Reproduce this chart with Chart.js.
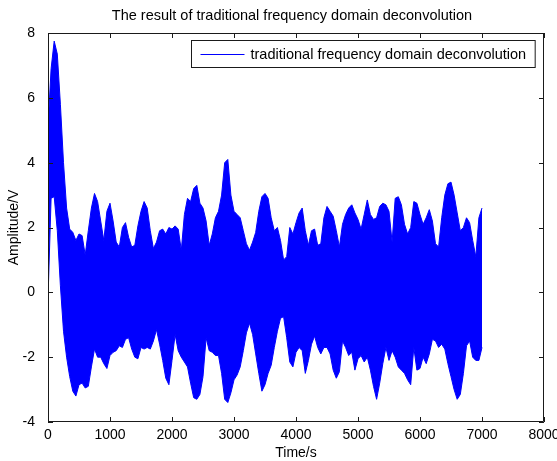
<!DOCTYPE html>
<html>
<head>
<meta charset="utf-8">
<style>
    html, body { margin: 0; padding: 0; background: #fff; }
    #wrap { width: 557px; height: 461px; }
</style>
</head>
<body>
    <div id="wrap">
        <canvas id="myChart" width="557" height="461"></canvas>
    </div>
    <script src="https://cdn.jsdelivr.net/npm/chart.js"></script>
    <script>
        // 신호 포락선 (그림에서 읽은 값, 50초 간격, 0 ~ 7000 s)
        const sampleStep = 50;
        const upperEnv = [
            5.1, 6.9, 7.75, 7.35, 5.8, 4.0, 2.6, 1.95, 1.85, 1.6,
            1.8, 1.75, 1.15, 1.9, 2.6, 3.05, 2.8, 2.2, 1.6, 2.5,
            2.75, 2.2, 1.55, 1.4, 2.0, 2.15, 1.7, 1.4, 1.45, 2.05,
            2.5, 2.8, 2.6, 1.9, 1.35, 1.55, 1.9, 1.95, 1.8, 2.0,
            1.95, 2.05, 1.95, 1.3, 2.4, 2.9, 2.8, 3.2, 3.3, 2.75,
            2.6, 2.2, 1.45, 1.8, 2.3, 2.5, 3.0, 4.0, 4.1, 3.0,
            2.5, 2.4, 2.3, 1.9, 1.5, 1.3, 1.55, 1.85, 2.5, 2.95,
            3.05, 2.9, 2.3, 1.9, 2.0, 1.6, 1.0, 1.1, 2.0, 1.8,
            2.15, 2.45, 2.6, 1.9, 1.45, 1.9, 1.95, 1.45, 1.5, 2.3,
            2.65, 2.5, 2.35, 1.9, 1.4, 2.1, 2.4, 2.6, 2.7, 2.45,
            2.25, 1.95, 2.4, 2.85, 2.4, 2.25, 2.3, 2.65, 2.75, 2.7,
            2.5, 1.55, 2.9, 2.95, 2.7, 2.1, 1.8, 2.0, 2.8, 2.75,
            2.4, 2.1, 2.3, 2.55, 2.2, 1.5, 1.4, 2.3, 3.0, 3.35,
            3.4, 3.0, 2.45, 1.9, 2.0, 2.3, 2.15, 1.6, 1.1, 2.3,
            2.6
        ];
        const lowerEnv = [
            -0.2, 2.9, 2.95, 1.9, 0.2, -1.2, -2.0, -2.6, -3.05, -3.2,
            -2.85, -2.8, -2.95, -2.9, -2.3, -1.75, -2.0, -2.0, -2.2, -2.35,
            -1.95, -1.85, -1.8, -1.65, -1.7, -1.45, -1.4, -1.75, -2.0, -2.05,
            -1.7, -1.75, -1.7, -1.75, -1.5, -1.15, -1.6, -2.1, -2.65, -2.85,
            -2.1, -1.3, -1.8, -2.0, -2.15, -2.3, -2.8, -3.25, -3.3, -3.15,
            -2.6, -1.4, -1.8, -1.85, -1.95, -1.95, -2.5, -3.3, -3.4, -3.1,
            -2.7, -2.55, -2.3, -1.8, -1.25, -0.95, -1.3, -1.9, -2.5, -3.05,
            -2.85, -2.5, -2.25, -1.7, -1.2, -0.8, -0.75, -1.4, -2.15, -2.3,
            -1.85, -1.7, -1.8, -2.5, -2.1, -1.6, -1.35, -1.7, -1.9, -1.7,
            -1.7, -1.9, -2.4, -2.65, -2.45, -1.5, -1.7, -1.95, -1.85, -2.4,
            -2.05, -1.95, -2.15, -2.0, -2.4, -2.9, -3.3, -2.8, -2.2, -1.7,
            -2.1, -1.8, -2.0, -2.3, -2.4, -2.5, -2.7, -2.85, -1.7, -2.4,
            -2.35, -2.0, -2.2, -1.9, -1.45, -1.5, -1.7, -1.6, -1.75, -2.2,
            -2.6, -3.0, -3.3, -3.15, -2.5, -1.65, -1.5, -2.0, -2.1, -2.1,
            -1.7
        ];
        const xTicks = [0, 1000, 2000, 3000, 4000, 5000, 6000, 7000, 8000];
        const yTicks = [-4, -2, 0, 2, 4, 6, 8];

        const titleText = 'The result of traditional frequency domain deconvolution';
        const seriesName = 'traditional frequency domain deconvolution';
        const fontFamily = '"Liberation Sans", Arial, Helvetica, sans-serif';

        const upperPts = upperEnv.map((v, i) => ({ x: i * sampleStep, y: v }));
        const lowerPts = lowerEnv.map((v, i) => ({ x: i * sampleStep, y: v }));

        // 축 상자 + 안쪽 눈금 + 제목 + 범례 (matlab 스타일)
        const matlabFrame = {
            id: 'matlabFrame',
            afterDatasetsDraw(chart) {
                const { ctx, chartArea: a, scales } = chart;
                ctx.save();
                ctx.strokeStyle = '#1a1a1a';
                ctx.lineWidth = 1;
                ctx.beginPath();
                ctx.rect(Math.round(a.left) + 0.5, Math.round(a.top) + 0.5,
                    Math.round(a.right - a.left) - 1, Math.round(a.bottom - a.top) - 1);
                ctx.stroke();

                const tl = 5;
                ctx.beginPath();
                xTicks.forEach(v => {
                    const px = Math.round(scales.x.getPixelForValue(v)) + 0.5;
                    ctx.moveTo(px, a.bottom); ctx.lineTo(px, a.bottom - tl);
                    ctx.moveTo(px, a.top); ctx.lineTo(px, a.top + tl);
                });
                yTicks.forEach(v => {
                    const py = Math.round(scales.y.getPixelForValue(v)) + 0.5;
                    ctx.moveTo(a.left, py); ctx.lineTo(a.left + tl, py);
                    ctx.moveTo(a.right, py); ctx.lineTo(a.right - tl, py);
                });
                ctx.stroke();

                // 제목
                ctx.fillStyle = '#000';
                ctx.font = '14.5px ' + fontFamily;
                ctx.textAlign = 'center';
                ctx.textBaseline = 'middle';
                ctx.fillText(titleText, (a.left + a.right) / 2 - 4, 16);

                // 범례
                ctx.font = '14.5px ' + fontFamily;
                const tw = ctx.measureText(seriesName).width;
                const boxW = 10 + 44 + 6 + tw + 8;
                const boxH = 27;
                const bx = Math.round(a.right - 9 - boxW) + 0.5;
                const by = Math.round(a.top + 7) + 0.5;
                ctx.fillStyle = '#fff';
                ctx.fillRect(bx, by, boxW, boxH);
                ctx.strokeStyle = '#1a1a1a';
                ctx.strokeRect(bx, by, boxW, boxH);
                const ly = Math.round(by + boxH / 2) + 0.5;
                ctx.strokeStyle = '#0000ff';
                ctx.beginPath();
                ctx.moveTo(bx + 9, ly); ctx.lineTo(bx + 53, ly);
                ctx.stroke();
                ctx.fillStyle = '#000';
                ctx.textBaseline = 'middle';
                ctx.textAlign = 'left';
                ctx.fillText(seriesName, bx + 59, ly + 0.5);
                ctx.restore();
            }
        };

        const chartCanvas = document.querySelector('#myChart');
        new Chart(chartCanvas, {
            type: 'line',
            data: {
                datasets: [{
                    label: seriesName,
                    data: upperPts,
                    borderColor: '#0000ff',
                    backgroundColor: '#0000ff',
                    borderWidth: 1,
                    pointRadius: 0,
                    tension: 0,
                    fill: '+1'
                }, {
                    label: seriesName + ' (lower)',
                    data: lowerPts,
                    borderColor: '#0000ff',
                    borderWidth: 1,
                    pointRadius: 0,
                    tension: 0,
                    fill: false
                }]
            },
            options: {
                responsive: false,
                animation: false,
                events: [],
                layout: { padding: { left: 0, right: 13, top: 33, bottom: 0 } },
                plugins: {
                    legend: { display: false },
                    tooltip: { enabled: false },
                    title: { display: false }
                },
                scales: {
                    x: {
                        type: 'linear',
                        min: 0,
                        max: 8000,
                        afterFit(scale) { scale.height = 39; },
                        afterBuildTicks(scale) { scale.ticks = xTicks.map(v => ({ value: v })); },
                        grid: { display: false },
                        border: { display: false },
                        ticks: {
                            color: '#000',
                            padding: -3.5,
                            maxRotation: 0,
                            autoSkip: false,
                            callback: v => String(v),
                            font: { family: fontFamily, size: 14 }
                        },
                        title: {
                            display: true,
                            text: 'Time/s',
                            color: '#000',
                            font: { family: fontFamily, size: 14 },
                            padding: { top: 0, bottom: -1 }
                        }
                    },
                    y: {
                        min: -4,
                        max: 8,
                        afterFit(scale) { scale.width = 48; },
                        afterBuildTicks(scale) { scale.ticks = yTicks.map(v => ({ value: v })); },
                        grid: { display: false },
                        border: { display: false },
                        ticks: {
                            color: '#000',
                            padding: 5,
                            autoSkip: false,
                            callback: v => String(v),
                            font: { family: fontFamily, size: 14 }
                        },
                        title: {
                            display: true,
                            text: 'Amplitude/V',
                            color: '#000',
                            font: { family: fontFamily, size: 14 },
                            padding: { top: 5.6, bottom: 0 }
                        }
                    }
                }
            },
            plugins: [matlabFrame]
        });
    </script>
</body>
</html>
